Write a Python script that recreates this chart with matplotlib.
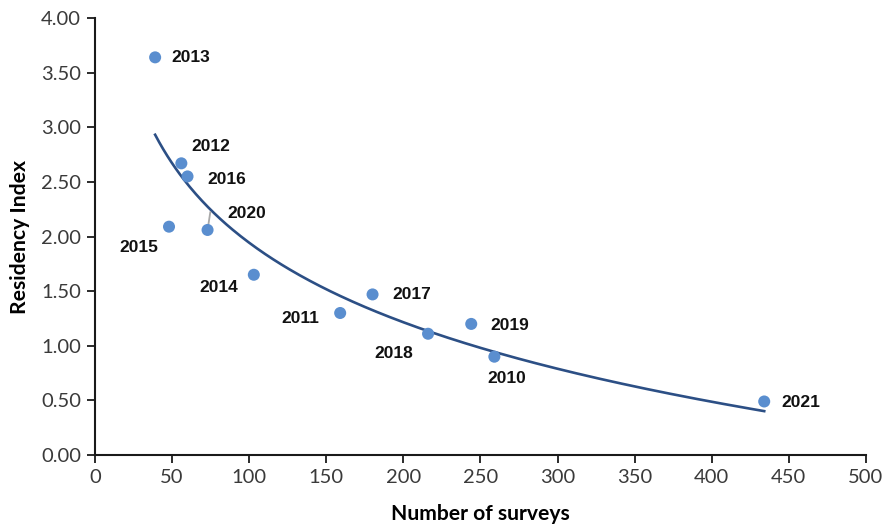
import numpy as np
import matplotlib.pyplot as plt

# Survey effort vs residency index per year
years = ["2013", "2012", "2016", "2015", "2020", "2014", "2011",
         "2017", "2018", "2019", "2010", "2021"]
surveys = [39, 56, 60, 48, 73, 103, 159, 180, 216, 244, 259, 434]
residency = [3.64, 2.67, 2.55, 2.09, 2.06, 1.65, 1.30, 1.47, 1.11, 1.20, 0.90, 0.49]

# Label placement offsets in points (dx, dy)
label_offsets = {
    "2013": (12, 0), "2012": (7, 12), "2016": (14, -2), "2015": (-36, -15),
    "2020": (14, 12), "2014": (-39, -9), "2011": (-42, -4), "2017": (14, 0),
    "2018": (-39, -14), "2019": (14, -1), "2010": (-5, -16), "2021": (12, -1),
}

fig = plt.figure(figsize=(8.87, 5.27), dpi=100)
ax = fig.add_axes([0.1071, 0.1366, 0.8692, 0.8292])

x = np.array(surveys, dtype=float)
y = np.array(residency, dtype=float)

# Logarithmic trendline fitted to the points
a, b = np.polyfit(np.log(x), y, 1)
xs = np.linspace(x.min(), x.max(), 300)
ax.plot(xs, a * np.log(xs) + b, color="#2C4F85", lw=1.9, zorder=2)

ax.scatter(x, y, s=75, color="#5A8ECF", edgecolors="none", zorder=3)

for yr, xi, yi in zip(years, x, y):
    dx, dy = label_offsets[yr]
    ax.annotate(yr, (xi, yi), xytext=(dx, dy), textcoords="offset points",
                ha="left", va="center", fontsize=12.5, fontweight="bold",
                family=["Liberation Sans", "DejaVu Sans"], color="#111111",
                zorder=4)

# Short leader line tying the 2020 label to its point
i20 = years.index("2020")
ax.annotate("", xy=(x[i20], y[i20]), xytext=(2, 13), textcoords="offset points",
            arrowprops=dict(arrowstyle="-", color="#A8A8A8", lw=1.3,
                            shrinkA=0, shrinkB=3), zorder=2)

ax.set_xlim(0, 500)
ax.set_ylim(0, 4.0)
ax.set_xticks(np.arange(0, 501, 50))
ax.set_yticks(np.arange(0, 4.01, 0.5))
ax.set_yticklabels([f"{v:.2f}" for v in np.arange(0, 4.01, 0.5)])

for s in ["top", "right"]:
    ax.spines[s].set_visible(False)
for s in ["left", "bottom"]:
    ax.spines[s].set_linewidth(1.5)
    ax.spines[s].set_color("#1a1a1a")

ax.tick_params(axis="both", direction="out", length=6, width=1.3,
               colors="#1a1a1a", labelcolor="#3a3a3a", labelsize=14.5, pad=4)
for lbl in ax.get_xticklabels() + ax.get_yticklabels():
    lbl.set_family("Lato")

ax.set_xlabel("Number of surveys", fontsize=15.2, fontweight="bold",
              family="Lato", labelpad=13)
ax.set_ylabel("Residency Index", fontsize=15.2, fontweight="bold",
              family="Lato", labelpad=8)

fig.savefig("out.png", dpi=100)
